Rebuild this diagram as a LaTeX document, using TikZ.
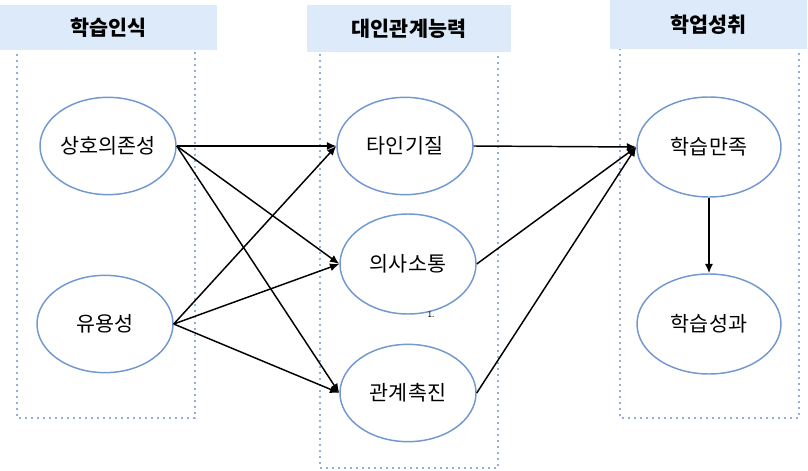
\documentclass[tikz,border=0pt]{standalone}
\usepackage{fontspec}
\setmainfont{Noto Sans CJK KR}
\usepackage{tikz}
\usetikzlibrary{shapes.geometric,arrows.meta}

\definecolor{bordo}{RGB}{114,152,208}
\definecolor{puntini}{RGB}{141,176,222}
\definecolor{testata}{RGB}{221,234,249}

\begin{document}
\begin{tikzpicture}[x=0.75pt, y=-0.75pt,
        latent/.style={ellipse, draw=bordo, line width=1.1pt, fill=white, minimum width=102pt, minimum height=73pt, inner sep=0pt, font=\fontsize{15.5}{18}\selectfont},
        header/.style={rectangle, fill=testata, draw=none, font=\bfseries\fontsize{15.5}{18}\selectfont},
        group/.style={draw=puntini, line width=1.5pt, dash pattern=on 1.5pt off 3pt},
        path/.style={-{Latex[length=7pt,width=6pt]}, line width=1.1pt}]

        \useasboundingbox (0,0) rectangle (808,471);

        % Gruppi tratteggiati
        \draw[group] (17,30) rectangle (195,418);
        \draw[group] (320,30) rectangle (498,468);
        \draw[group] (620,30) rectangle (799,418);

        % Testate
        \node[header, minimum width=163pt, minimum height=34pt] (h1) at (108.5,27.5) {학습인식};
        \node[header, minimum width=153pt, minimum height=35pt] (h2) at (409,28.5) {대인관계능력};
        \node[header, minimum width=148pt, minimum height=37pt] (h3) at (708.5,24.5) {학업성취};

        % Posizioni dei nodi
        \node[latent] (a) at (108,146) {상호의존성};
        \node[latent] (b) at (105,324) {유용성};
        \node[latent] (c) at (405,146) {타인기질};
        \node[latent, minimum height=75pt] (d) at (408,264) {의사소통};
        \node[latent] (e) at (408,393) {관계촉진};
        \node[latent, minimum width=108pt, minimum height=75pt] (f) at (709,147) {학습만족};
        \node[latent, minimum width=108pt, minimum height=75pt] (g) at (709,324) {학습성과};
        \node[font=\fontsize{6}{7}\selectfont, inner sep=0pt] (n) at (431,315) {1.};

        % Archi
        \draw[path] (a.east) -- (c.west);
        \draw[path] (a.east) -- (d.west);
        \draw[path] (a.east) -- (e.west);
        \draw[path] (b.east) -- (c.west);
        \draw[path] (b.east) -- (d.west);
        \draw[path] (b.east) -- (e.west);
        \draw[path] (c.east) -- (f.west);
        \draw[path] (d.east) -- (f.west);
        \draw[path] (e.east) -- (f.west);
        \draw[path] (f.south) -- (g.north);
\end{tikzpicture}
\end{document}
